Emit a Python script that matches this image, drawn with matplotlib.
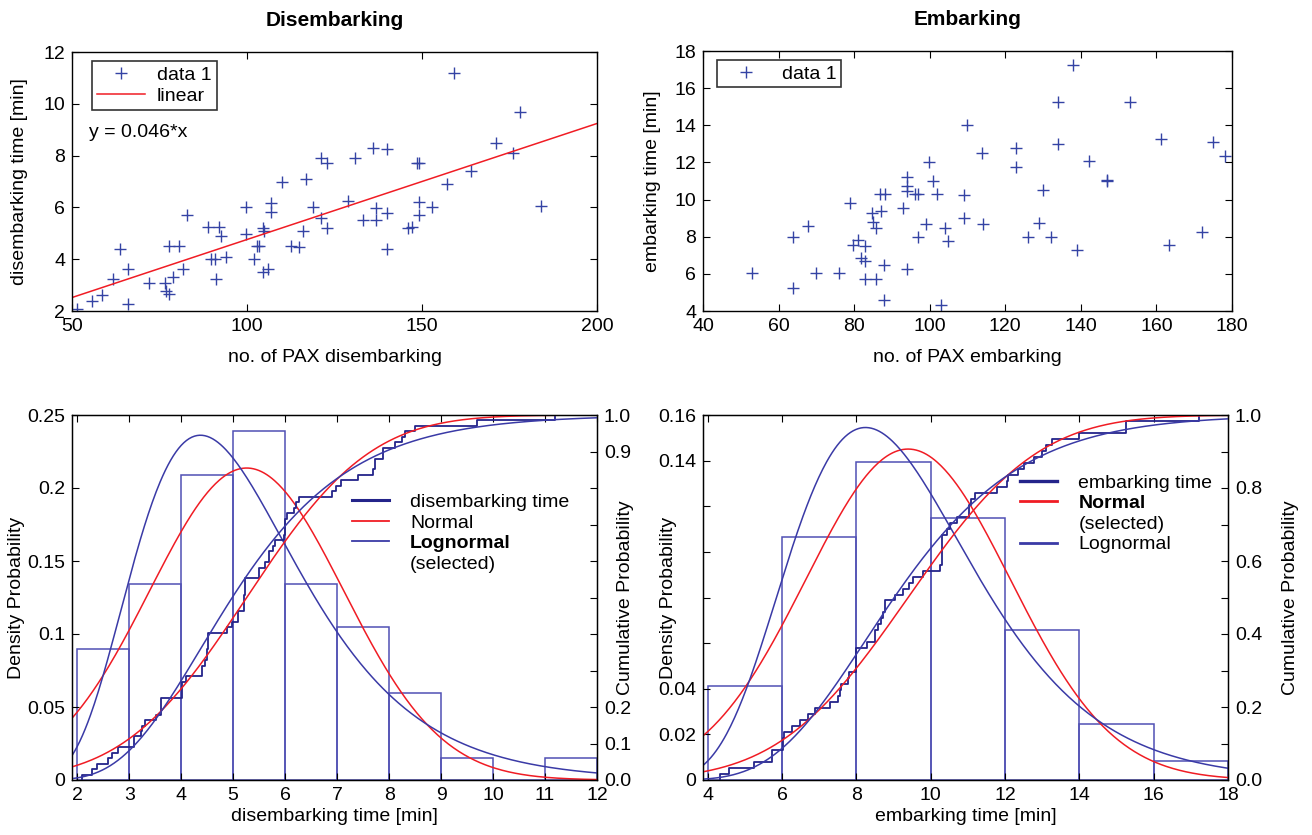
import numpy as np
import matplotlib
matplotlib.use('Agg')
import matplotlib.pyplot as plt
from matplotlib.lines import Line2D
from math import erf

plt.rcParams['font.family'] = ['Liberation Sans', 'DejaVu Sans']
plt.rcParams['font.size'] = 14

# --- disembarking: no. of PAX vs. time [min]
dis_pax = [51.5, 55.8, 58.7, 61.7, 63.8, 65.9, 65.9, 71.9, 76.7, 76.9, 77.8, 77.7,
           80.6, 78.8, 81.8, 82.9, 88.8, 91.9, 92.7, 89.7, 90.8, 91.0, 94.0, 99.8,
           99.8, 102.1, 102.8, 103.5, 104.7, 104.9, 104.7, 105.9, 106.9, 106.9, 109.9,
           112.6, 114.8, 116.0, 116.8, 118.9, 121.2, 122.8, 121.1, 122.8, 128.9, 130.9,
           133.0, 135.9, 136.9, 136.9, 139.9, 139.9, 139.9, 146.0, 147.0, 149.0, 149.0,
           149.0, 152.9, 157.0, 159.0, 163.9, 171.0, 176.1, 177.9, 184.1, 148.5]
dis_time = [2.09, 2.39, 2.60, 3.22, 4.40, 3.61, 2.28, 3.09, 3.09, 2.78, 2.67, 4.50,
            4.50, 3.30, 3.61, 5.69, 5.23, 5.23, 4.88, 4.02, 4.02, 3.24, 4.10, 6.00,
            4.98, 4.02, 4.51, 4.51, 5.20, 5.10, 3.52, 3.61, 6.17, 5.81, 6.97,
            4.51, 4.46, 5.10, 7.08, 6.00, 7.89, 7.73, 5.61, 5.20, 6.26, 7.89,
            5.50, 8.31, 5.98, 5.50, 8.24, 5.77, 4.40, 5.20, 5.23, 7.73, 6.20,
            5.69, 6.00, 6.91, 11.20, 7.40, 8.50, 8.11, 9.69, 6.04, 7.70]
fit_slope = 0.0448
fit_intercept = 0.28

# --- embarking: no. of PAX vs. time [min]
emb_pax = [52.9, 63.8, 63.8, 67.8, 69.9, 75.9, 78.9, 79.6, 80.9, 81.9, 82.9, 82.9,
           82.9, 84.8, 85.0, 85.8, 85.8, 87.0, 86.8, 88.1, 88.0, 88.0, 93.0, 94.0,
           94.0, 94.0, 94.0, 96.0, 97.0, 97.0, 98.9, 99.9, 100.9, 102.0, 104.0, 103.0,
           104.9, 109.0, 109.0, 110.0, 113.9, 114.0, 122.9, 122.9, 126.0, 128.9, 130.0,
           132.0, 134.0, 134.0, 137.9, 139.0, 142.1, 146.9, 152.9, 161.1, 163.2, 172.1,
           175.0, 178.1, 146.9]
emb_time = [6.02, 8.0, 5.25, 8.58, 6.06, 6.02, 9.80, 7.58, 7.80, 6.88, 7.49, 6.69,
            5.72, 9.26, 8.78, 8.49, 5.72, 9.41, 10.30, 10.30, 6.49, 4.57, 9.53, 11.20,
            10.71, 10.45, 6.26, 10.30, 10.30, 8.0, 8.66, 12.04, 11.02, 10.30, 8.49, 4.34,
            7.76, 10.25, 9.03, 14.0, 12.50, 8.71, 12.79, 11.77, 8.0, 8.76, 10.52,
            8.0, 15.26, 13.0, 17.23, 7.28, 12.09, 11.02, 15.26, 13.26, 7.55, 8.28,
            13.11, 12.34, 11.08]

# histograms (density)
dis_bins = [2, 3, 4, 5, 6, 7, 8, 9, 10, 11, 12]
dis_density = [0.0896, 0.1343, 0.2090, 0.2388, 0.1343, 0.1045, 0.0597, 0.0149, 0.0, 0.0149]
emb_bins = [4, 6, 8, 10, 12, 14, 16, 18]
emb_density = [0.0410, 0.1066, 0.1393, 0.1148, 0.0656, 0.0246, 0.0082]

# fitted distributions
dis_norm = (5.26, 1.867)   # mean, std
dis_logn = (1.606, 0.362)  # mu, sigma
emb_norm = (9.39, 2.75)
emb_logn = (2.199, 0.2995)

dis_yticks = [0, 0.05, 0.1, 0.15, 0.2, 0.25]
dis_ylabels = ['0', '0.05', '0.1', '0.15', '0.2', '0.25']
dis_rlabels = ['0.0', '0.1', '0.2', '', '', '', '', '', '', '0.9', '1.0']
emb_yticks = [0, 0.02, 0.04, 0.06, 0.08, 0.1, 0.12, 0.14, 0.16]
emb_ylabels = ['0', '0.02', '0.04', '', '', '', '', '0.14', '0.16']
emb_rlabels = ['0.0', '', '0.2', '', '0.4', '', '0.6', '', '0.8', '', '1.0']

NAVY = '#24248a'
BLUE = '#3a3aa6'
MARK = '#3443a4'
HIST = '#5050b4'
RED = '#f01c24'

W, H = 1312, 835
fig = plt.figure(figsize=(W / 100, H / 100), dpi=100)


def box(l, t, r, b):
    return fig.add_axes([l / W, 1 - b / H, (r - l) / W, (b - t) / H])


def style(ax, right=True):
    ax.tick_params(direction='in', length=5, top=True, right=right, labelsize=14, pad=5)
    for s in ax.spines.values():
        s.set_linewidth(1.0)


def norm_pdf(x, m, s):
    return np.exp(-0.5 * ((x - m) / s) ** 2) / (s * np.sqrt(2 * np.pi))


def norm_cdf(x, m, s):
    return np.array([0.5 * (1 + erf((v - m) / (s * np.sqrt(2)))) for v in x])


def logn_pdf(x, mu, s):
    return np.exp(-0.5 * ((np.log(x) - mu) / s) ** 2) / (x * s * np.sqrt(2 * np.pi))


def logn_cdf(x, mu, s):
    return norm_cdf(np.log(x), mu, s)


# ---------------- top left
ax1 = box(72, 52, 597, 311)
ax1.plot(dis_pax, dis_time, '+', color=MARK, ms=8, mew=1.0, label='data 1')
xl = np.array([50, 200])
ax1.plot(xl, fit_slope * xl + fit_intercept, color=RED, lw=1.1, label='linear')
ax1.set_xlim(50, 200)
ax1.set_ylim(2, 12)
ax1.set_xticks([50, 100, 150, 200])
ax1.set_yticks([2, 4, 6, 8, 10, 12])
style(ax1)
ax1.set_xlabel('no. of PAX disembarking', fontsize=14, labelpad=10)
ax1.set_ylabel('disembarking time [min]', fontsize=14)
ax1.yaxis.set_label_coords(-0.084, 0.5)
ax1.set_title('Disembarking', fontsize=15, fontweight='bold', pad=19)
leg = ax1.legend(loc='upper left', bbox_to_anchor=(0.038, 0.965), fancybox=False,
                 edgecolor='black', fontsize=14, handlelength=2.5, borderpad=0.25,
                 labelspacing=0.2, handletextpad=0.6, borderaxespad=0.0)
leg.get_frame().set_linewidth(1.2)
ax1.text(0.032, 0.69, 'y = 0.046*x', transform=ax1.transAxes, fontsize=14, va='center')

# ---------------- top right
ax2 = box(703, 51, 1232, 311)
ax2.plot(emb_pax, emb_time, '+', color=MARK, ms=8, mew=1.0, label='data 1')
ax2.set_xlim(40, 180)
ax2.set_ylim(4, 18)
ax2.set_xticks(range(40, 181, 20))
ax2.set_yticks(range(4, 19, 2))
style(ax2)
ax2.set_xlabel('no. of PAX embarking', fontsize=14, labelpad=10)
ax2.set_ylabel('embarking time [min]', fontsize=14)
ax2.yaxis.set_label_coords(-0.08, 0.5)
ax2.set_title('Embarking', fontsize=15, fontweight='bold', pad=19)
leg = ax2.legend(loc='upper left', bbox_to_anchor=(0.026, 0.965), fancybox=False,
                 edgecolor='black', fontsize=14, handlelength=2.5, borderpad=0.25,
                 handletextpad=0.6, borderaxespad=0.0)
leg.get_frame().set_linewidth(1.2)


def dist_panel(l, t, r, b, data, bins, dens, nrm, lgn, xlim, xticks,
               yticks, ylabels, ylim, rlabels, xlabel, labels, bold_idx, styles,
               leg_anchor, lab_left, lab_right):
    ax = box(l, t, r, b)
    edges = np.array(bins, dtype=float)
    ax.bar(edges[:-1], dens, width=np.diff(edges), align='edge', fill=False,
           edgecolor=HIST, lw=1.1)
    xs = np.linspace(xlim[0], xlim[1], 400)
    ax.plot(xs, norm_pdf(xs, *nrm), color=RED, lw=1.1)
    ax.plot(xs, logn_pdf(xs, *lgn), color=BLUE, lw=1.1)
    ax.set_xlim(*xlim)
    ax.set_ylim(*ylim)
    ax.set_xticks(xticks)
    ax.set_yticks(yticks)
    ax.set_yticklabels(ylabels)
    style(ax, right=False)
    ax.set_xlabel(xlabel, fontsize=14, labelpad=3)
    ax.set_ylabel('Density Probability', fontsize=14)
    ax.yaxis.set_label_coords(lab_left, 0.5)

    axr = ax.twinx()
    srt = np.sort(data)
    F = np.arange(1, len(srt) + 1) / len(srt)
    axr.step(np.r_[srt[0], srt], np.r_[0, F], where='post', color=NAVY, lw=1.3)
    axr.plot(xs, norm_cdf(xs, *nrm), color=RED, lw=1.1)
    axr.plot(xs, logn_cdf(xs, *lgn), color=BLUE, lw=1.1)
    axr.set_ylim(0, 1)
    axr.set_yticks(np.linspace(0, 1, 11))
    axr.set_yticklabels(rlabels)
    axr.tick_params(direction='in', length=5, labelsize=14, pad=5)
    axr.set_ylabel('Cumulative Probability', fontsize=14)
    axr.yaxis.set_label_coords(lab_right, 0.5)

    handles = [Line2D([], [], color=c, lw=w) if c else Line2D([], [], lw=0)
               for c, w in styles]
    leg = axr.legend(handles, labels, loc='upper left', bbox_to_anchor=leg_anchor,
                     frameon=False, fontsize=14, handlelength=1.9, handletextpad=1.1,
                     labelspacing=0.15, borderpad=0.0, borderaxespad=0.0)
    leg.get_texts()[bold_idx].set_fontweight('bold')
    return ax


dist_panel(72, 415, 597, 780, dis_time, dis_bins, dis_density, dis_norm, dis_logn,
           (1.9, 12), range(2, 13), dis_yticks, dis_ylabels, (0, 0.25), dis_rlabels,
           'disembarking time [min]',
           ['disembarking time', 'Normal', 'Lognormal', '(selected)'], 2,
           [(NAVY, 2.2), (RED, 1.3), (BLUE, 1.3), (None, 0)],
           (0.533, 0.785), -0.0895, 1.038)

dist_panel(703, 415, 1228, 780, emb_time, emb_bins, emb_density, emb_norm, emb_logn,
           (3.87, 18), range(4, 19, 2), emb_yticks, emb_ylabels, (0, 0.16), emb_rlabels,
           'embarking time [min]',
           ['embarking time', 'Normal', '(selected)', 'Lognormal'], 1,
           [(NAVY, 2.4), (RED, 2.0), (None, 0), (BLUE, 2.0)],
           (0.604, 0.838), -0.0495, 1.103)

fig.savefig('out.png', dpi=100)
